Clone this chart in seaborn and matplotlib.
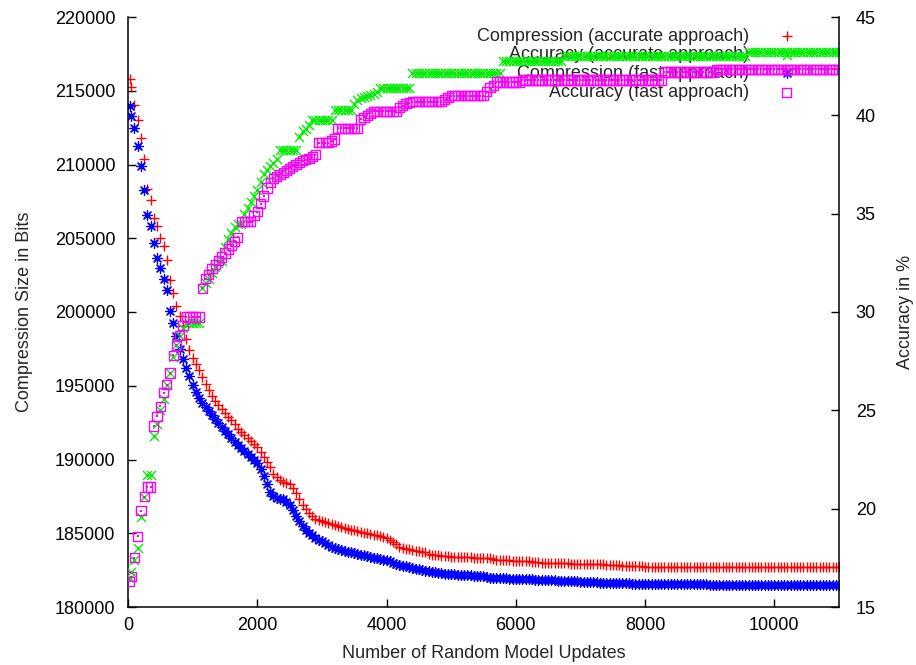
import matplotlib
matplotlib.use("Agg")
import matplotlib.pyplot as plt
import seaborn as sns

# ---------------- data ----------------
updates = [25] + list(range(50, 1001, 50)) + list(range(1050, 11001, 50))

comp_accurate = [
    215800, 215250, 214060, 213040, 211780, 210400, 208350, 207580, 206400, 205800,
    205050, 204450, 203500, 202150, 201300, 200400, 199700, 199050, 198200, 197450,
    196850,
    196500, 196100, 195600, 195150, 194700, 194300, 194000, 193700, 193420, 193150,
    192900, 192650, 192380, 192100, 191870, 191650, 191450, 191250, 191050, 190850,
    190520, 190200, 189850, 189500, 189000, 188800, 188600, 188500, 188420, 188350,
    188050, 187700, 187300, 186900, 186650, 186400, 186200, 186000, 185920, 185850,
    185780, 185700, 185620, 185550, 185500, 185450, 185380, 185300, 185250, 185200,
    185150, 185100, 185050, 185000, 184950, 184900, 184850, 184800, 184720, 184650,
    184520, 184400, 184250, 184100, 184020, 183950, 183900, 183850, 183810, 183780,
    183740, 183700, 183620, 183550, 183520, 183500, 183470, 183450, 183430, 183420,
    183410, 183400, 183390, 183380, 183370, 183360, 183350, 183340, 183330, 183320,
    183310, 183300, 183250, 183200, 183190, 183180, 183170, 183160, 183150, 183140,
    183130, 183120, 183110, 183100, 183080, 183050, 183020, 183000, 182990, 182980,
    182975, 182970, 182965, 182960, 182955, 182950, 182945, 182940, 182935, 182930,
    182925, 182920, 182915, 182910, 182905, 182900, 182890, 182880, 182865, 182850,
    182835, 182820, 182810, 182800, 182790, 182780, 182770, 182760, 182750, 182740,
    182735, 182730, 182725, 182720, 182715, 182710, 182705, 182700, 182700, 182700,
    182700, 182700, 182700, 182700, 182700, 182700, 182700, 182700, 182700, 182700,
    182700, 182700, 182700, 182700, 182700, 182700, 182700, 182700, 182700, 182700,
    182700, 182700, 182700, 182700, 182700, 182700, 182700, 182700, 182700, 182700,
    182700, 182700, 182700, 182700, 182700, 182700, 182700, 182700, 182700, 182700,
    182700, 182700, 182700, 182700, 182700, 182700, 182700, 182700, 182700, 182700,
]

comp_fast = [
    213950, 213300, 212450, 211250, 209900, 208300, 206550, 205800, 204650, 203650,
    202980, 202230, 201500, 200100, 199230, 198350, 197470, 196820, 196220, 195640,
    195030,
    194580, 194150, 193850, 193550, 193270, 193000, 192750, 192500, 192220, 191950,
    191700, 191450, 191220, 191000, 190800, 190600, 190400, 190200, 189980, 189760,
    189350, 188900, 188350, 187800, 187550, 187400, 187350, 187300, 187100, 186900,
    186550, 186150, 185800, 185500, 185250, 185050, 184870, 184700, 184570, 184450,
    184320, 184200, 184100, 184000, 183920, 183850, 183800, 183750, 183700, 183650,
    183600, 183550, 183500, 183450, 183400, 183350, 183300, 183250, 183220, 183180,
    183090, 183000, 182920, 182850, 182800, 182750, 182700, 182650, 182600, 182550,
    182500, 182450, 182410, 182380, 182350, 182320, 182290, 182270, 182250, 182230,
    182215, 182200, 182185, 182170, 182155, 182140, 182125, 182110, 182095, 182080,
    182040, 182000, 181985, 181970, 181960, 181950, 181935, 181920, 181910, 181900,
    181890, 181880, 181875, 181870, 181865, 181860, 181850, 181840, 181835, 181830,
    181815, 181800, 181790, 181780, 181770, 181760, 181750, 181740, 181730, 181720,
    181710, 181700, 181690, 181680, 181670, 181660, 181650, 181640, 181630, 181620,
    181615, 181610, 181605, 181600, 181595, 181590, 181585, 181580, 181575, 181570,
    181565, 181560, 181560, 181560, 181555, 181550, 181550, 181550, 181545, 181545,
    181540, 181540, 181540, 181535, 181535, 181530, 181530, 181530, 181530, 181525,
    181525, 181520, 181520, 181520, 181520, 181520, 181515, 181515, 181515, 181510,
    181510, 181510, 181510, 181510, 181510, 181505, 181505, 181505, 181505, 181500,
    181500, 181500, 181500, 181500, 181500, 181500, 181500, 181500, 181500, 181500,
    181500, 181500, 181500, 181500, 181500, 181500, 181500, 181500, 181500, 181500,
]

acc_accurate = [
    16.5, 16.8, 17.4, 18.0, 19.6, 20.6, 21.7, 21.7, 23.7, 24.3,
    25.0, 25.6, 26.3, 26.9, 27.7, 28.3, 28.8, 29.2, 29.45, 29.45,
    29.45,
    29.45, 29.45, 31.2, 31.5, 31.7, 32.0, 32.3, 32.5, 32.6, 33.3,
    33.7, 34.0, 34.3, 34.5, 34.5, 35.0, 35.3, 35.6, 35.9, 36.2,
    36.6, 37.0, 37.2, 37.4, 37.6, 37.8, 38.25, 38.25, 38.25, 38.25,
    38.25, 38.25, 38.9, 39.2, 39.3, 39.5, 39.75, 39.75, 39.75, 39.75,
    39.75, 39.75, 39.75, 40.25, 40.25, 40.25, 40.25, 40.25, 40.25, 40.6,
    40.8, 40.9, 40.95, 41.0, 41.05, 41.1, 41.2, 41.4, 41.4, 41.4,
    41.4, 41.4, 41.4, 41.4, 41.4, 41.4, 41.4, 42.15, 42.15, 42.15,
    42.15, 42.15, 42.15, 42.15, 42.15, 42.15, 42.15, 42.15, 42.15, 42.15,
    42.15, 42.15, 42.15, 42.15, 42.15, 42.15, 42.15, 42.15, 42.15, 42.15,
    42.15, 42.15, 42.15, 42.15, 42.15, 42.75, 42.75, 42.75, 42.75, 42.75,
    42.75, 42.75, 42.75, 42.75, 42.75, 42.75, 42.75, 42.75, 42.75, 42.75,
    42.75, 42.75, 42.75, 42.75, 43.0, 43.0, 43.0, 43.0, 43.0, 43.0,
    43.0, 43.0, 43.0, 43.0, 43.0, 43.0, 43.0, 43.0, 43.0, 43.0,
    43.0, 43.0, 43.0, 43.0, 43.0, 43.0, 43.0, 43.0, 43.0, 43.0,
    43.0, 43.0, 43.0, 43.0, 43.0, 43.0, 43.0, 43.0, 43.0, 43.0,
    43.0, 43.0, 43.0, 43.0, 43.0, 43.0, 43.0, 43.0, 43.0, 43.0,
    43.0, 43.0, 43.0, 43.0, 43.0, 43.0, 43.0, 43.0, 43.0, 43.0,
    43.0, 43.2, 43.2, 43.2, 43.2, 43.2, 43.2, 43.2, 43.2, 43.2,
    43.2, 43.2, 43.2, 43.2, 43.2, 43.2, 43.2, 43.2, 43.2, 43.2,
    43.2, 43.2, 43.2, 43.2, 43.2, 43.2, 43.2, 43.2, 43.2, 43.2,
]

acc_fast = [
    16.3, 16.55, 17.5, 18.6, 19.9, 20.6, 21.1, 21.1, 24.2, 24.7,
    25.2, 25.9, 26.3, 26.9, 27.8, 28.3, 28.8, 29.3, 29.75, 29.75,
    29.75,
    29.75, 29.75, 31.2, 31.7, 31.9, 32.2, 32.4, 32.6, 32.8, 33.0,
    33.2, 33.4, 33.6, 33.8, 34.6, 34.6, 34.6, 34.6, 34.9, 35.1,
    35.5, 35.9, 36.3, 36.6, 36.8, 36.9, 37.0, 37.1, 37.2, 37.3,
    37.4, 37.5, 37.6, 37.7, 37.75, 37.8, 37.9, 38.0, 38.6, 38.6,
    38.6, 38.6, 38.7, 38.8, 39.35, 39.35, 39.35, 39.35, 39.35, 39.35,
    39.35, 39.8, 39.9, 40.0, 40.1, 40.2, 40.2, 40.2, 40.2, 40.2,
    40.2, 40.2, 40.2, 40.4, 40.5, 40.6, 40.65, 40.7, 40.7, 40.7,
    40.7, 40.7, 40.7, 40.7, 40.7, 40.7, 40.7, 40.8, 40.9, 41.0,
    41.0, 41.0, 41.0, 41.0, 41.0, 41.0, 41.0, 41.0, 41.0, 41.0,
    41.2, 41.4, 41.5, 41.7, 41.7, 41.7, 41.7, 41.7, 41.7, 41.7,
    41.7, 41.8, 41.8, 41.8, 41.8, 41.8, 41.8, 41.8, 41.8, 41.8,
    41.8, 41.8, 41.8, 41.8, 41.8, 41.8, 41.8, 41.8, 41.8, 41.8,
    41.8, 41.8, 41.8, 41.8, 41.8, 41.8, 41.8, 41.8, 41.8, 41.8,
    41.8, 41.8, 41.8, 41.8, 41.8, 41.8, 41.8, 41.8, 41.8, 41.8,
    41.8, 41.8, 41.8, 41.8, 41.8, 42.2, 42.2, 42.2, 42.2, 42.2,
    42.2, 42.2, 42.2, 42.2, 42.2, 42.2, 42.2, 42.2, 42.2, 42.2,
    42.2, 42.35, 42.35, 42.35, 42.35, 42.35, 42.35, 42.35, 42.35, 42.35,
    42.35, 42.35, 42.35, 42.35, 42.35, 42.35, 42.35, 42.35, 42.35, 42.35,
    42.35, 42.35, 42.35, 42.35, 42.35, 42.35, 42.35, 42.35, 42.35, 42.35,
    42.35, 42.35, 42.35, 42.35, 42.35, 42.35, 42.35, 42.35, 42.35, 42.35,
]

series_labels = [
    "Compression (accurate approach)",
    "Accuracy (accurate approach)",
    "Compression (fast approach)",
    "Accuracy (fast approach)",
]
x_ticks = [0, 2000, 4000, 6000, 8000, 10000]
left_ticks = [180000, 185000, 190000, 195000, 200000, 205000, 210000, 215000, 220000]
right_ticks = [15, 20, 25, 30, 35, 40, 45]

# ---------------- styling ----------------
sns.set_theme(style="white")
plt.rcParams["font.family"] = ["Liberation Sans", "DejaVu Sans"]
plt.rcParams["font.size"] = 13
plt.rcParams["axes.linewidth"] = 1.1
plt.rcParams["axes.edgecolor"] = "black"

fig = plt.figure(figsize=(9.16, 6.65), dpi=100)
ax1 = fig.add_axes([128 / 916, 1 - 607 / 665, 711 / 916, 590 / 665])
ax2 = ax1.twinx()

RED, GREEN, BLUE, MAGENTA = "#ff0000", "#00ee00", "#0000ff", "#ff00ff"

sns.scatterplot(x=updates, y=comp_accurate, marker="+", color=RED, s=55,
                linewidth=1.0, ax=ax1, label=series_labels[0], legend=False)
h_red = ax1.collections[-1]
sns.scatterplot(x=updates, y=comp_fast, marker=(8, 2, 0), color=BLUE, s=50,
                linewidth=0.9, ax=ax1, label=series_labels[2], legend=False)
h_blue = ax1.collections[-1]

sns.scatterplot(x=updates, y=acc_accurate, marker="x", color=GREEN, s=42,
                linewidth=1.0, ax=ax2, label=series_labels[1], legend=False)
h_green = ax2.collections[-1]
sns.scatterplot(x=updates, y=acc_fast, marker="s", color=MAGENTA, s=44,
                facecolor="none", edgecolor=MAGENTA, linewidth=1.0, ax=ax2,
                label=series_labels[3], legend=False)
h_mag = ax2.collections[-1]
sns.scatterplot(x=updates, y=acc_fast, marker="s", color=MAGENTA, s=2,
                linewidth=0, ax=ax2, legend=False)

# axes limits and ticks
ax1.set_xlim(0, 11000)
ax1.set_ylim(180000, 220000)
ax2.set_ylim(15, 45)
ax1.set_xticks(x_ticks)
ax1.set_xticklabels([str(v) for v in x_ticks])
ax1.set_yticks(left_ticks)
ax1.set_yticklabels([str(v) for v in left_ticks])
ax2.set_yticks(right_ticks)
ax2.set_yticklabels([str(v) for v in right_ticks])

for ax in (ax1, ax2):
    ax.spines["top"].set_visible(False)
    ax.grid(False)
ax1.spines["right"].set_visible(False)
ax2.spines["left"].set_visible(False)
ax2.spines["bottom"].set_visible(False)

ax1.tick_params(axis="x", which="both", bottom=True, top=False, direction="in",
                length=6, width=1, colors="black", labelsize=13, pad=7)
ax1.tick_params(axis="y", which="both", left=True, right=False, direction="in",
                length=6, width=1, colors="black", labelsize=13, pad=9)
ax2.tick_params(axis="y", which="both", right=True, left=False, direction="in",
                length=6, width=1, colors="black", labelsize=13, pad=12)

ax1.set_xlabel("Number of Random Model Updates", fontsize=13, labelpad=8)
ax1.set_ylabel("Compression Size in Bits", fontsize=13, labelpad=16)
ax2.set_ylabel("Accuracy in %", fontsize=13, labelpad=15)

leg = ax2.legend([h_red, h_green, h_blue, h_mag], series_labels,
                 loc="upper right", bbox_to_anchor=(0.952, 0.982),
                 markerfirst=False, frameon=False, borderaxespad=0, borderpad=0,
                 handlelength=2, handletextpad=1.1, labelspacing=0.1,
                 fontsize=13, scatterpoints=1)
leg.set_zorder(0)

fig.savefig("out.png", dpi=100)
